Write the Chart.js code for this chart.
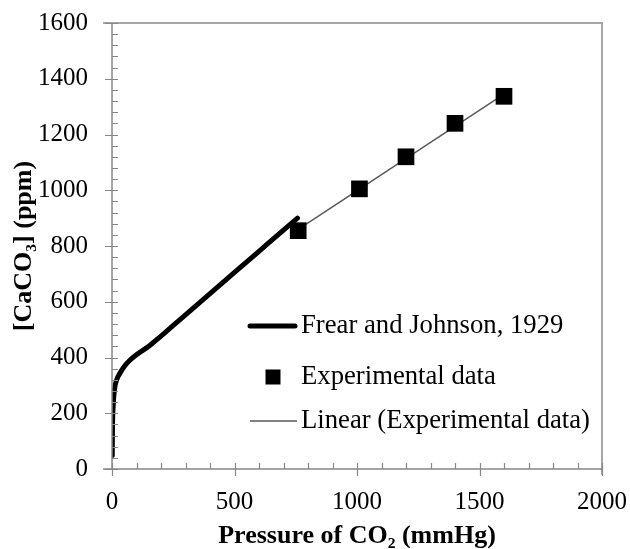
<!DOCTYPE html>
<html>
<head>
<meta charset="utf-8">
<script src="https://cdn.jsdelivr.net/npm/chart.js@4/dist/chart.umd.min.js"></script>
<style>
  html, body { margin: 0; padding: 0; background: #ffffff; }
  #wrap { width: 630px; height: 549px; }
</style>
</head>
<body>
<div id="wrap"><canvas id="c" width="630" height="549"></canvas></div>
<script>
// ---- Data ----
const frearPressure = [1, 2, 5, 10, 20, 30, 50, 75, 100, 150, 200, 300, 400, 500, 600, 700, 757];
const frearCaCO3    = [48, 150, 230, 285, 322, 340, 368, 392, 410, 440, 477, 553, 629, 705, 781, 857, 900];

const expPressure = [760, 1010, 1200, 1400, 1600];
const expCaCO3    = [855, 1005, 1120, 1240, 1337];

const trendPressure = [760, 1600];
const trendCaCO3    = [860, 1345];

const xTicks = [0, 500, 1000, 1500, 2000];
const yTicks = [0, 200, 400, 600, 800, 1000, 1200, 1400, 1600];

const seriesLabels = ['Frear and Johnson, 1929', 'Experimental data', 'Linear (Experimental data)'];
const xTitle = 'Pressure of CO\u2082 (mmHg)';
const yTitle = '[CaCO\u2083] (ppm)';

// ---- Build chart ----
const zip = (xs, ys) => xs.map((x, i) => ({ x: x, y: ys[i] }));
const FONT = "'Liberation Serif', 'Times New Roman', serif";
const AXIS_COLOR = '#878787';

const axesPlugin = {
  id: 'axesPlugin',
  afterDatasetsDraw(chart) {
    const ctx = chart.ctx;
    const xs = chart.scales.x, ys = chart.scales.y;
    const a = chart.chartArea;
    ctx.save();
    // top / right frame
    ctx.strokeStyle = '#a6a6a6';
    ctx.lineWidth = 2;
    ctx.beginPath();
    ctx.moveTo(a.left - 9, a.top);
    ctx.lineTo(a.right, a.top);
    ctx.lineTo(a.right, a.bottom + 6);
    ctx.stroke();
    // axis lines
    ctx.strokeStyle = AXIS_COLOR;
    ctx.lineWidth = 1.5;
    ctx.beginPath();
    ctx.moveTo(a.left, a.top);
    ctx.lineTo(a.left, a.bottom);
    ctx.moveTo(a.left - 9, a.bottom);
    ctx.lineTo(a.right, a.bottom);
    ctx.stroke();
    // y ticks
    ctx.lineWidth = 1.2;
    ctx.beginPath();
    for (let v = 0; v <= 1600; v += 40) {
      const py = Math.round(ys.getPixelForValue(v)) + 0.5;
      if (v % 200 === 0) { ctx.moveTo(a.left - 7, py); ctx.lineTo(a.left + 6, py); }
      else { ctx.moveTo(a.left, py); ctx.lineTo(a.left + 6, py); }
    }
    // x ticks
    for (let v = 0; v <= 2000; v += 100) {
      const px = Math.round(xs.getPixelForValue(v)) + 0.5;
      if (v % 500 === 0) { ctx.moveTo(px, a.bottom - 6); ctx.lineTo(px, a.bottom + 7); }
      else { ctx.moveTo(px, a.bottom - 6); ctx.lineTo(px, a.bottom); }
    }
    ctx.stroke();
    ctx.restore();
  },
  afterDraw(chart) {
    // legend inside plot area
    const ctx = chart.ctx;
    const ds = chart.data.datasets;
    const lx0 = 248, lx1 = 297, tx = 301;
    const rows = [326, 377, 421];
    ctx.save();
    ctx.font = "26.7px " + FONT;
    ctx.fillStyle = '#000';
    ctx.textBaseline = 'middle';
    ctx.textAlign = 'left';
    // item 0: thick line
    ctx.strokeStyle = ds[0].borderColor;
    ctx.lineWidth = ds[0].borderWidth;
    ctx.lineCap = 'round';
    ctx.beginPath(); ctx.moveTo(lx0 + 2, rows[0]); ctx.lineTo(lx1 - 2, rows[0]); ctx.stroke();
    ctx.fillText(ds[0].label, tx, rows[0]);
    // item 1: square
    ctx.fillStyle = ds[1].backgroundColor;
    ctx.fillRect(273 - 7.5, rows[1] - 7.5, 15, 15);
    ctx.fillStyle = '#000';
    ctx.fillText(ds[1].label, tx, rows[1]);
    // item 2: thin line
    ctx.strokeStyle = ds[2].borderColor;
    ctx.lineWidth = ds[2].borderWidth;
    ctx.lineCap = 'butt';
    ctx.beginPath(); ctx.moveTo(lx0 + 2, rows[2]); ctx.lineTo(lx1, rows[2]); ctx.stroke();
    ctx.fillText(ds[2].label, tx, rows[2]);
    ctx.restore();
  }
};

new Chart(document.getElementById('c'), {
  type: 'scatter',
  data: {
    datasets: [
      {
        label: seriesLabels[0],
        type: 'line',
        data: zip(frearPressure, frearCaCO3),
        borderColor: '#000000',
        backgroundColor: '#000000',
        borderWidth: 5,
        pointRadius: 0,
        cubicInterpolationMode: 'monotone',
        borderCapStyle: 'round',
        fill: false,
        order: 1
      },
      {
        label: seriesLabels[1],
        data: zip(expPressure, expCaCO3),
        pointStyle: 'rect',
        pointRadius: 11.8,
        backgroundColor: '#000000',
        borderColor: '#000000',
        borderWidth: 0,
        showLine: false,
        order: 2
      },
      {
        label: seriesLabels[2],
        type: 'line',
        data: zip(trendPressure, trendCaCO3),
        borderColor: '#595959',
        borderWidth: 1.5,
        pointRadius: 0,
        fill: false,
        order: 3
      }
    ]
  },
  options: {
    responsive: false,
    animation: false,
    layout: { padding: { top: 23, right: 28, left: 0, bottom: 0 } },
    plugins: {
      legend: { display: false },
      tooltip: { enabled: false }
    },
    scales: {
      x: {
        type: 'linear',
        min: 0, max: 2000,
        afterBuildTicks: (s) => { s.ticks = xTicks.map(v => ({ value: v })); },
        afterFit: (s) => { s.height = 80; s.paddingLeft = 0; s.paddingRight = 0; },
        grid: { display: false, drawTicks: false },
        border: { display: false },
        ticks: {
          font: { family: FONT, size: 25 }, color: '#000', padding: 18, maxRotation: 0,
          callback: (v) => String(v)
        },
        title: {
          display: true, text: xTitle, color: '#000',
          font: { family: FONT, size: 26, weight: 'bold' },
          padding: { top: 0, bottom: -3 }
        }
      },
      y: {
        type: 'linear',
        min: 0, max: 1600,
        afterBuildTicks: (s) => { s.ticks = yTicks.map(v => ({ value: v })); },
        afterFit: (s) => { s.width = 112; s.paddingTop = 0; s.paddingBottom = 0; },
        grid: { display: false, drawTicks: false },
        border: { display: false },
        ticks: {
          font: { family: FONT, size: 25 }, color: '#000', padding: 24,
          callback: (v) => String(v)
        },
        title: {
          display: true, text: yTitle, color: '#000',
          font: { family: FONT, size: 26, weight: 'bold' },
          padding: { top: 9, bottom: 0 }
        }
      }
    }
  },
  plugins: [axesPlugin]
});
</script>
</body>
</html>
